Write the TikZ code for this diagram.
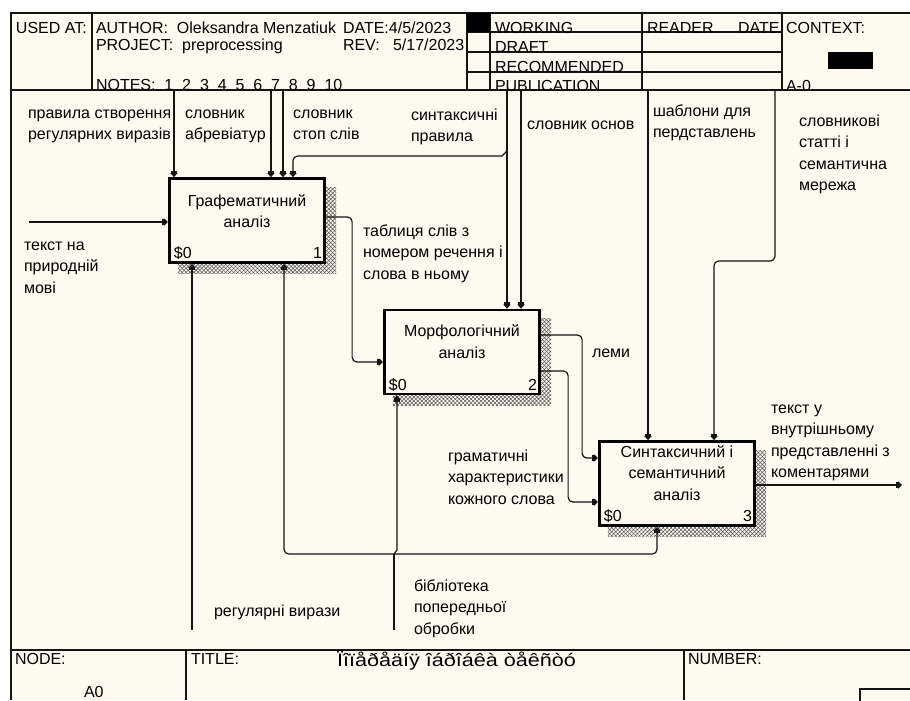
\documentclass[tikz,border=0pt]{standalone}
\usepackage{fontspec}
\setmainfont{Liberation Sans}
\usetikzlibrary{arrows.meta,patterns.meta,calc,backgrounds}
\definecolor{paper}{HTML}{FFFAF0}
\definecolor{ink}{HTML}{141414}

\begin{document}
\begin{tikzpicture}[x=0.75pt,y=-0.75pt,
  hdr/.style={inner sep=0pt, outer sep=0pt, anchor=base west, font=\fontsize{12}{14}\selectfont},
  ttl/.style={inner sep=0pt, outer sep=0pt, anchor=base west, font=\fontsize{13.5}{16}\selectfont},
  lbl/.style={inner sep=0pt, outer sep=0pt, anchor=base west, align=left, font=\fontsize{12}{16.2}\selectfont},
  boxtxt/.style={inner sep=0pt, outer sep=0pt, anchor=base, align=center, font=\fontsize{12}{16.2}\selectfont},
  corner/.style={inner sep=0pt, outer sep=0pt, font=\fontsize{12}{14}\selectfont},
  frame/.style={draw=ink, line width=1.2pt},
  rule/.style={draw=ink, line width=0.9pt},
  procbox/.style={draw=black, line width=2.2pt, fill=paper, inner sep=0pt,
                  minimum width=116.5pt, minimum height=63pt},
  shadowfill/.style={pattern={Hatch[angle=45,distance=2.1pt,line width=0.4pt]}, pattern color=black!65},
  link/.style={draw=ink, line width=0.9pt},
  arr/.style={link, -{Rectangle[length=1.6pt,width=4.2pt]Triangle[length=3pt,width=5.6pt]}},
  rc/.style={rounded corners=3.5pt}
]
\useasboundingbox (0,0) rectangle (910,700);
\clip (0,0) rectangle (910,700);

% ---------- form frame ----------
\draw[frame] (910,13) -- (11,13) -- (11,700);
\draw[frame] (11,90) -- (910,90);
\draw[frame, line width=1.5pt] (11,650) -- (910,650);
\foreach \xx in {92,467,490,642,782} \draw[rule] (\xx,13) -- (\xx,90);
\foreach \yy in {32,52,72} \draw[rule] (467,\yy) -- (782,\yy);
\fill[black] (467,13) rectangle (490,32);
\fill[black] (828,52) rectangle (873,69);
\foreach \xx in {186,684} \draw[rule] (\xx,650) -- (\xx,700);
\draw[rule] (860,689) rectangle (920,710);

% ---------- header texts ----------
\node[hdr] (usedat) at (16,33.5) {USED AT:};
\node[hdr] (author) at (96,33.5) {AUTHOR:\ \ Oleksandra Menzatiuk};
\node[hdr] (date) at (343,33.5) {DATE:4/5/2023};
\node[hdr] (project) at (96,50.5) {PROJECT:\ \ preprocessing};
\node[hdr] (rev) at (343,50.5) {REV:\ \ \ 5/17/2023};
\node[hdr] (notes) at (96,90.5) {NOTES:\ \ 1\ \ 2\ \ 3\ \ 4\ \ 5\ \ 6\ \ 7\ \ 8\ \ 9\ \ 10};
\node[hdr] (working) at (495,33) {WORKING};
\node[hdr] (draft) at (495,52.5) {DRAFT};
\node[hdr] (recommended) at (495,72) {RECOMMENDED};
\node[hdr] (publication) at (495,91) {PUBLICATION};
\node[hdr] (reader) at (647,33) {READER};
\node[hdr] (readerdate) at (738,33) {DATE};
\node[hdr] (context) at (786,33) {CONTEXT:};
\node[hdr] (azero) at (786,91) {A-0};

% ---------- footer texts ----------
\node[hdr] (nodelbl) at (15,664) {NODE:};
\node[hdr] (nodeval) at (84,697) {A0};
\node[hdr] (titlelbl) at (191,664) {TITLE:};
\node[ttl] (title) at (337,666) {\scalebox{1.2}[1]{Ïîïåðåäíÿ îáðîáêà òåêñòó}};
\node[hdr] (numberlbl) at (688,664) {NUMBER:};

% ---------- activity boxes ----------
\node[procbox] (b1) at (247,220.5) {};
\node[procbox] (b2) at (462,352) {};
\node[procbox] (b3) at (677,483.5) {};

% (the base of a multi-line node is its last line)
\node[boxtxt] (b1t) at ($(b1.north)+(0,50.6)$) {Графематичний\\аналіз};
\node[boxtxt] (b2t) at ($(b2.north)+(0,49.6)$) {Морфологічний\\аналіз};
\node[boxtxt] (b3t) at ($(b3.north)+(0,60.2)$) {Синтаксичний і\\семантичний\\аналіз};

\node[corner, anchor=base west] (b1c) at ($(b1.south west)+(6,-5)$) {\$0};
\node[corner, anchor=base east] (b1n) at ($(b1.south east)+(-4,-5)$) {1};
\node[corner, anchor=base west] (b2c) at ($(b2.south west)+(6,-5)$) {\$0};
\node[corner, anchor=base east] (b2n) at ($(b2.south east)+(-4,-5)$) {2};
\node[corner, anchor=base west] (b3c) at ($(b3.south west)+(6,-5)$) {\$0};
\node[corner, anchor=base east] (b3n) at ($(b3.south east)+(-4,-5)$) {3};

% ---------- free ends of the arrows ----------
\coordinate (iText)  at (29,222);
\coordinate (cRegex) at (174,90);
\coordinate (cAbbr)  at (271,90);
\coordinate (cStop)  at (283,90);
\coordinate (cSynt)  at (507,90);
\coordinate (jSynt)  at (507,151);
\coordinate (cStem)  at (521,90);
\coordinate (cTmpl)  at (648,90);
\coordinate (cDict)  at (775,90);
\coordinate (oText)  at (902,485);
\coordinate (mRegex) at (192,630);
\coordinate (mLib)   at (394,630);
\coordinate (jLib)   at (394,554);

% ---------- inputs and outputs ----------
\draw[arr] (iText) -- (iText -| b1.west);
\draw[arr, rc] ($(b1.east)+(0,-3.5)$) -- ++(26,0) |- ($(b2.west)+(0,10)$);
\draw[arr, rc] ($(b2.east)+(0,-17)$) -- ++(41,0) |- ($(b3.west)+(0,-25.5)$);
\draw[arr, rc] ($(b2.east)+(0,19)$) -- ++(27,0) |- ($(b3.west)+(0,18.5)$);
\draw[arr] ($(b3.east)+(0,1.5)$) -- (oText);

% ---------- controls ----------
\draw[arr] (cRegex) -- (cRegex |- b1.north);
\draw[arr] (cAbbr) -- (cAbbr |- b1.north);
\draw[arr] (cStop) -- (cStop |- b1.north);
\draw[arr] (cSynt) -- (cSynt |- b2.north);
\draw[arr] (jSynt) -- ++(-5,5) [rc] -| (293,0 |- b1.north);
\draw[arr] (cStem) -- (cStem |- b2.north);
\draw[arr] (cTmpl) -- (cTmpl |- b3.north);
\draw[arr, rc] (cDict) |- (714,261) -- (714,0 |- b3.north);

% ---------- mechanisms ----------
\draw[arr] (mRegex) -- (mRegex |- b1.south);
\draw[link] (mLib) -- (jLib);
\draw[arr, rc] (jLib) -| (284,0 |- b1.south);
\draw[arr, rc] (jLib) -| (657,0 |- b3.south);
\draw[arr] (jLib) -- ++(3,-4) -- (397,0 |- b2.south);

% ---------- arrow labels (positions give the last baseline) ----------
\node[lbl] (lRegexRules) at (28,139.6) {правила створення\\регулярних виразів};
\node[lbl] (lAbbr) at (185,139.6) {словник\\абревіатур};
\node[lbl] (lStop) at (293,139.6) {словник\\стоп слів};
\node[lbl] (lSynt) at (411,141.6) {синтаксичні\\правила};
\node[lbl] (lStem) at (527,129) {словник основ};
\node[lbl] (lTmpl) at (653,137.6) {шаблони для\\пердставлень};
\node[lbl] (lDict) at (799,190.8) {словникові\\статті і\\семантична\\мережа};
\node[lbl] (lText) at (24,293.2) {текст на\\природній\\мові};
\node[lbl] (lTable) at (363,279.2) {таблиця слів з\\номером речення і\\слова в ньому};
\node[lbl] (lLemma) at (592,357) {леми};
\node[lbl] (lGram) at (448,504.2) {граматичні\\характеристики\\кожного слова};
\node[lbl] (lOut) at (771,477.8) {текст у\\внутрішньому\\представленні з\\коментарями};
\node[lbl] (lRegex) at (214,616) {регулярні вирази};
\node[lbl] (lLib) at (414,634.2) {бібліотека\\попередньої\\обробки};

% ---------- paper and box shadows ----------
\begin{scope}[on background layer]
  \fill[white] (0,0) rectangle (910,700);
  \fill[paper] (11,13) rectangle (910,700);
  \foreach \b in {b1,b2,b3}
    \path[shadowfill] ($(\b.north west)+(10,10)$) rectangle ($(\b.south east)+(10,10)$);
\end{scope}
\end{tikzpicture}
\end{document}
